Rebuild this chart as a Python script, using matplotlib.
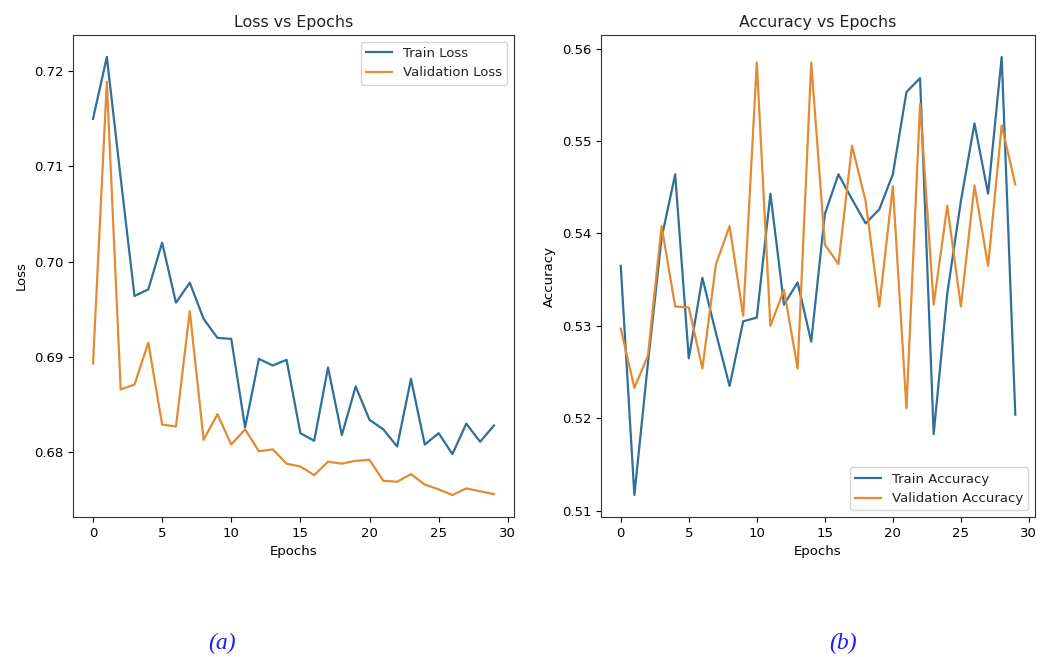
import numpy as np
import matplotlib
matplotlib.use("Agg")
import matplotlib.pyplot as plt

epochs = list(range(30))

train_loss = [0.7150, 0.7215, 0.7088, 0.6964, 0.6971, 0.7020, 0.6957, 0.6978, 0.6940, 0.6920,
              0.6919, 0.6826, 0.6898, 0.6891, 0.6897, 0.6820, 0.6812, 0.6889, 0.6818, 0.6869,
              0.6834, 0.6824, 0.6806, 0.6877, 0.6808, 0.6820, 0.6798, 0.6830, 0.6811, 0.6828]
val_loss = [0.6893, 0.7189, 0.6866, 0.6871, 0.6915, 0.6829, 0.6827, 0.6948, 0.6813, 0.6840,
            0.6808, 0.6824, 0.6801, 0.6803, 0.6788, 0.6785, 0.6776, 0.6790, 0.6788, 0.6791,
            0.6792, 0.6770, 0.6769, 0.6777, 0.6766, 0.6761, 0.6755, 0.6762, 0.6759, 0.6756]

train_acc = [0.5365, 0.5117, 0.5260, 0.5395, 0.5464, 0.5265, 0.5352, 0.5292, 0.5235, 0.5305,
             0.5309, 0.5443, 0.5323, 0.5347, 0.5283, 0.5421, 0.5464, 0.5437, 0.5411, 0.5426,
             0.5464, 0.5553, 0.5568, 0.5183, 0.5335, 0.5435, 0.5519, 0.5443, 0.5591, 0.5204]
val_acc = [0.5297, 0.5233, 0.5268, 0.5408, 0.5321, 0.5320, 0.5254, 0.5367, 0.5408, 0.5311,
           0.5585, 0.5300, 0.5339, 0.5254, 0.5585, 0.5388, 0.5367, 0.5495, 0.5435, 0.5321,
           0.5451, 0.5211, 0.5540, 0.5323, 0.5430, 0.5321, 0.5452, 0.5365, 0.5517, 0.5453]

blue = '#2f6f98'
orange = '#e38a33'

plt.rcParams['font.size'] = 9.5
plt.rcParams['text.color'] = '#222222'
plt.rcParams['axes.edgecolor'] = '#333333'

fig = plt.figure(figsize=(10.44, 6.57), dpi=100)
ax1 = fig.add_axes([0.0699, 0.2131, 0.4224, 0.7336])
ax2 = fig.add_axes([0.5757, 0.2131, 0.4157, 0.7336])

ax1.plot(epochs, train_loss, color=blue, lw=1.6, label='Train Loss')
ax1.plot(epochs, val_loss, color=orange, lw=1.6, label='Validation Loss')
ax1.set_title('Loss vs Epochs')
ax1.set_xlabel('Epochs')
ax1.set_ylabel('Loss')
ax1.legend(loc='upper right')

ax2.plot(epochs, train_acc, color=blue, lw=1.6, label='Train Accuracy')
ax2.plot(epochs, val_acc, color=orange, lw=1.6, label='Validation Accuracy')
ax2.set_title('Accuracy vs Epochs')
ax2.set_xlabel('Epochs')
ax2.set_ylabel('Accuracy')
ax2.legend(loc='lower right')

fig.text(222 / 1044, 1 - 643 / 657, '(a)', color='#1a1aff', fontsize=17, style='italic',
         family='Liberation Serif', ha='center', va='center')
fig.text(843 / 1044, 1 - 643 / 657, '(b)', color='#1a1aff', fontsize=17, style='italic',
         family='Liberation Serif', ha='center', va='center')

fig.savefig('out.png', dpi=100)
